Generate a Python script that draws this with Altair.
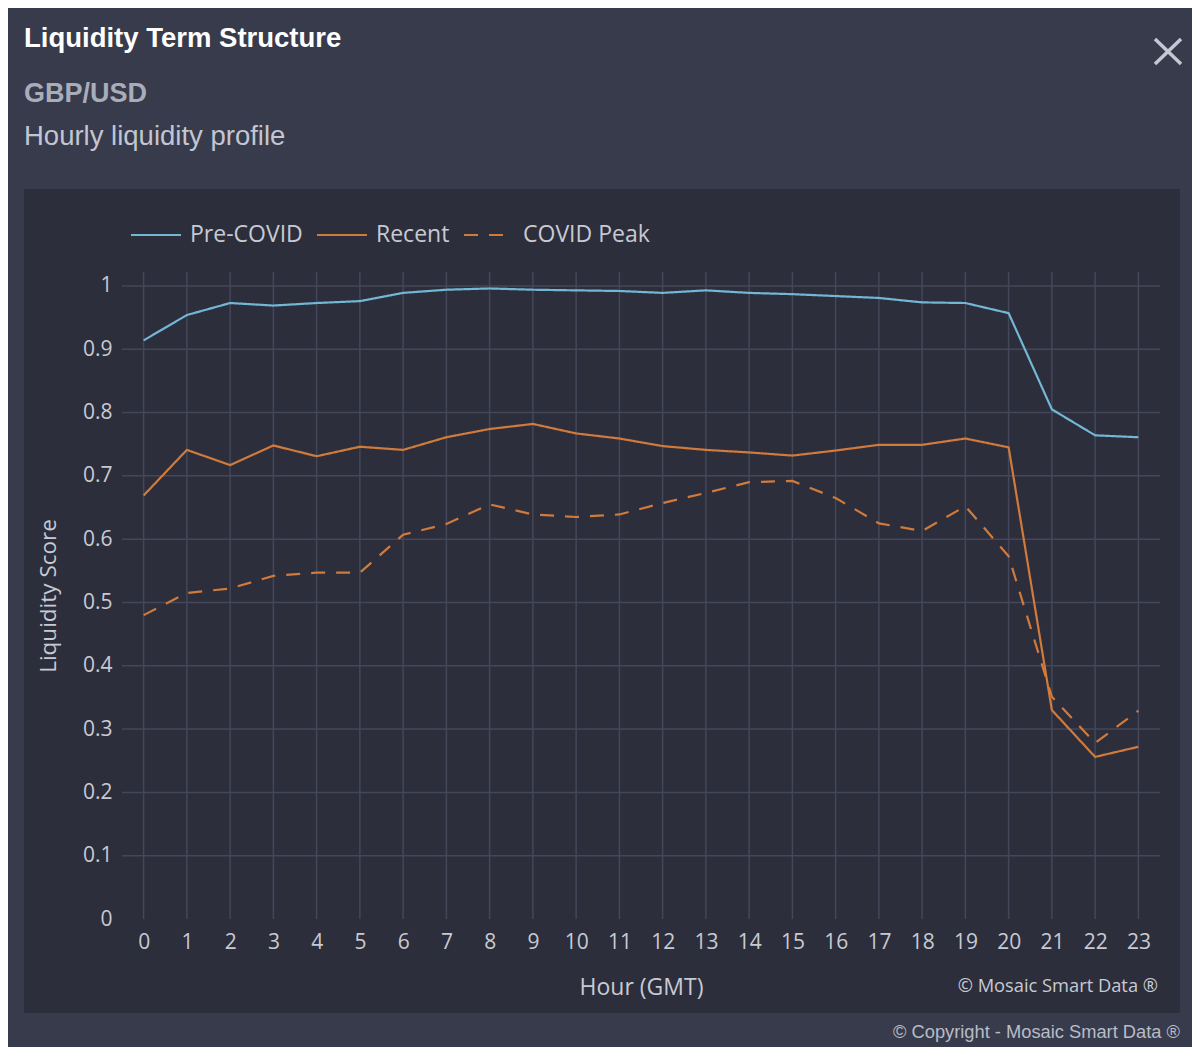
import altair as alt
import pandas as pd

hours = list(range(24))
pre_covid = [0.914, 0.954, 0.973, 0.969, 0.973, 0.976, 0.989, 0.994, 0.996, 0.994,
             0.993, 0.992, 0.989, 0.993, 0.989, 0.987, 0.984, 0.981, 0.974, 0.973,
             0.957, 0.805, 0.764, 0.761]
recent = [0.669, 0.741, 0.717, 0.748, 0.731, 0.746, 0.741, 0.761, 0.774, 0.782,
          0.767, 0.759, 0.747, 0.741, 0.737, 0.732, 0.740, 0.749, 0.749, 0.759,
          0.745, 0.330, 0.256, 0.272]
covid_peak = [0.480, 0.515, 0.522, 0.542, 0.547, 0.547, 0.607, 0.624, 0.655, 0.639,
              0.635, 0.639, 0.657, 0.673, 0.690, 0.692, 0.665, 0.625, 0.613, 0.652,
              0.573, 0.351, 0.278, 0.329]
series_names = ["Pre-COVID", "Recent", "COVID Peak"]
series_colors = ["#72b7d5", "#d07a3c", "#d07a3c"]
series_dash = [[1, 0], [1, 0], [14, 11]]
y_ticks = [0, 0.1, 0.2, 0.3, 0.4, 0.5, 0.6, 0.7, 0.8, 0.9, 1.0]

W, H = 1038, 647
OUTER = "#373b4c"
PANEL = "#2c2e3c"
GRID = "#44475a"
TXT = "#c8cad3"

rows = []
for name, vals in zip(series_names, [pre_covid, recent, covid_peak]):
    for h, v in zip(hours, vals):
        rows.append({"Hour": h, "Score": v, "Series": name})
df = pd.DataFrame(rows)

xscale = alt.Scale(domain=[-0.5, 23.5], nice=False, zero=False)
yscale = alt.Scale(domain=[0, 1.022], nice=False)

one = pd.DataFrame({"k": [0]})

panel = alt.Chart(one).mark_rect(color=PANEL).encode(
    x=alt.value(24 - 122), x2=alt.value(1180 - 122),
    y=alt.value(189 - 272), y2=alt.value(1013 - 272),
)

vgrid = alt.Chart(pd.DataFrame({"Hour": hours})).mark_rule(color=GRID, strokeWidth=1.5).encode(
    x=alt.X("Hour:Q", scale=xscale),
    y=alt.value(0), y2=alt.value(H),
)
hgrid = alt.Chart(pd.DataFrame({"Score": y_ticks[1:]})).mark_rule(color=GRID, strokeWidth=1.5).encode(
    y=alt.Y("Score:Q", scale=yscale),
    x=alt.value(0), x2=alt.value(W),
)

legend_kw = dict(title=None, orient="none", direction="horizontal",
                 legendX=8, legendY=-63, symbolType="stroke",
                 symbolSize=2500, symbolStrokeWidth=2,
                 labelFont="Open Sans", labelFontSize=23, labelColor=TXT,
                 labelOffset=8, columnPadding=10)

lines = alt.Chart(df).mark_line(strokeWidth=2.2).encode(
    x=alt.X("Hour:Q", scale=xscale,
            axis=alt.Axis(values=hours, title="Hour (GMT)", grid=False, domain=False, ticks=False,
                          labelPadding=12, labelFontSize=21, labelFont="Open Sans", labelColor=TXT,
                          titleFont="Open Sans", titleFontSize=23, titleFontWeight="normal",
                          titleColor=TXT, titleX=W / 2, titleY=68, titleBaseline="middle",
                          labelFlush=False, zindex=1)),
    y=alt.Y("Score:Q", scale=yscale,
            axis=alt.Axis(values=y_ticks, title="Liquidity Score", grid=False, domain=False, ticks=False,
                          labelPadding=10, labelFontSize=21, labelFont="Open Sans", labelColor=TXT,
                          format="~g", titleFont="Open Sans", titleFontSize=22.5,
                          titleFontWeight="normal", titleColor=TXT, titleX=-74, titleY=H / 2,
                          titleBaseline="middle", titleAngle=-90, labelFlush=False, zindex=1)),
    color=alt.Color("Series:N", scale=alt.Scale(domain=series_names, range=series_colors),
                    sort=series_names, legend=alt.Legend(**legend_kw)),
    strokeDash=alt.StrokeDash("Series:N", scale=alt.Scale(domain=series_names, range=series_dash),
                              sort=series_names, legend=alt.Legend(**legend_kw)),
)


def label(text, x, y, size, color, font="Liberation Sans", weight="normal", align="left",
          baseline="alphabetic"):
    return alt.Chart(pd.DataFrame({"t": [text]})).mark_text(
        font=font, fontSize=size, color=color, fontWeight=weight, align=align, baseline=baseline
    ).encode(text="t:N", x=alt.value(x), y=alt.value(y))


title = label("Liquidity Term Structure", 24 - 122, 47 - 272, 27.5, "#ffffff", weight="bold")
pair = label("GBP/USD", 24 - 122, 102 - 272, 27, "#a9adba", weight="bold")
sub = label("Hourly liquidity profile", 24 - 122, 145 - 272, 27.5, "#c3c6d0")
mosaic = label("© Mosaic Smart Data ®", 1158 - 122, 987 - 272, 18.3, TXT, font="Open Sans",
               align="right", baseline="middle")
copy = label("© Copyright - Mosaic Smart Data ®", 1180 - 122, 1033 - 272, 18.3, "#b9bcc6",
             align="right", baseline="middle")

close1 = alt.Chart(one).mark_rule(color="#c5c8d3", strokeWidth=3.5).encode(
    x=alt.value(1155 - 122), x2=alt.value(1181 - 122),
    y=alt.value(39 - 272), y2=alt.value(64 - 272),
)
close2 = alt.Chart(one).mark_rule(color="#c5c8d3", strokeWidth=3.5).encode(
    x=alt.value(1155 - 122), x2=alt.value(1181 - 122),
    y=alt.value(64 - 272), y2=alt.value(39 - 272),
)

chart = alt.layer(panel, vgrid, hgrid, lines, title, pair, sub, mosaic, copy, close1, close2).properties(
    width=W, height=H,
    autosize=alt.AutoSizeParams(type="none"),
    padding={"left": 114, "top": 264, "right": 32, "bottom": 128},
    background=OUTER,
).configure_view(stroke=None).resolve_scale(color="shared")

chart.save("out.html", embed_options={"renderer": "svg", "actions": False})
